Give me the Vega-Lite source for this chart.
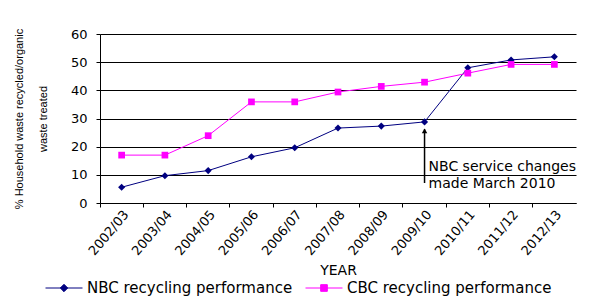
{
  "$schema": "https://vega.github.io/schema/vega-lite/v6.json",
  "width": 476,
  "height": 169,
  "autosize": {"type": "none"},
  "padding": {"left": 100, "top": 34, "right": 17, "bottom": 93},
  "background": "white",
  "config": {"view": {"stroke": null}, "font": "DejaVu Sans"},
  "datasets": {
    "series": [
      {"year": "2002/03", "series": "NBC recycling performance", "value": 5.6},
      {"year": "2003/04", "series": "NBC recycling performance", "value": 9.7},
      {"year": "2004/05", "series": "NBC recycling performance", "value": 11.5},
      {"year": "2005/06", "series": "NBC recycling performance", "value": 16.4},
      {"year": "2006/07", "series": "NBC recycling performance", "value": 19.6},
      {"year": "2007/08", "series": "NBC recycling performance", "value": 26.6},
      {"year": "2008/09", "series": "NBC recycling performance", "value": 27.3},
      {"year": "2009/10", "series": "NBC recycling performance", "value": 28.8},
      {"year": "2010/11", "series": "NBC recycling performance", "value": 48.0},
      {"year": "2011/12", "series": "NBC recycling performance", "value": 50.8},
      {"year": "2012/13", "series": "NBC recycling performance", "value": 51.9},
      {"year": "2002/03", "series": "CBC recycling performance", "value": 17.0},
      {"year": "2003/04", "series": "CBC recycling performance", "value": 17.0},
      {"year": "2004/05", "series": "CBC recycling performance", "value": 23.9},
      {"year": "2005/06", "series": "CBC recycling performance", "value": 35.9},
      {"year": "2006/07", "series": "CBC recycling performance", "value": 35.9},
      {"year": "2007/08", "series": "CBC recycling performance", "value": 39.4},
      {"year": "2008/09", "series": "CBC recycling performance", "value": 41.4},
      {"year": "2009/10", "series": "CBC recycling performance", "value": 42.9},
      {"year": "2010/11", "series": "CBC recycling performance", "value": 46.1},
      {"year": "2011/12", "series": "CBC recycling performance", "value": 49.2},
      {"year": "2012/13", "series": "CBC recycling performance", "value": 49.2}
    ],
    "arrow": [{"year": "2009/10", "value": 7.1, "value2": 26.2}],
    "arrowhead": [{"year": "2009/10", "value": 25.6}],
    "notes": [
      {"year": "2009/10", "value": 12.8, "label": "NBC service changes"},
      {"year": "2009/10", "value": 6.7, "label": "made March 2010"}
    ]
  },
  "encoding": {
    "x": {
      "field": "year", "type": "ordinal",
      "sort": ["2002/03","2003/04","2004/05","2005/06","2006/07","2007/08","2008/09","2009/10","2010/11","2011/12","2012/13"],
      "scale": {"type": "band", "paddingInner": 0, "paddingOuter": 0},
      "axis": {
        "title": "YEAR", "titleFont": "DejaVu Sans", "titleFontSize": 14, "titleFontWeight": "normal", "titleColor": "#000", "titlePadding": 6,
        "bandPosition": 0, "labelAngle": -50, "labelAlign": "right", "labelBaseline": "top",
        "labelFont": "DejaVu Sans", "labelFontSize": 13, "labelColor": "#000", "labelPadding": 1,
        "domainColor": "#000", "tickColor": "#000", "tickSize": 4, "grid": false
      }
    },
    "y": {
      "field": "value", "type": "quantitative",
      "scale": {"domain": [0, 60], "nice": false},
      "axis": {
        "values": [0, 10, 20, 30, 40, 50, 60],
        "title": ["% Household waste recycled/organic", "waste treated"],
        "titleFont": "Liberation Sans", "titleFontSize": 11, "titleFontWeight": "normal", "titleColor": "#000",
        "titleLineHeight": 24, "titlePadding": 22,
        "labelFont": "DejaVu Sans", "labelFontSize": 13, "labelColor": "#000", "labelPadding": 9,
        "domainColor": "#000", "tickColor": "#000", "tickSize": 4,
        "grid": true, "gridColor": "#000", "gridWidth": 1, "gridOpacity": 1
      }
    }
  },
  "layer": [
    {
      "data": {"name": "series"},
      "mark": {"type": "line", "strokeWidth": 1},
      "encoding": {
        "color": {
          "field": "series", "type": "nominal",
          "scale": {"domain": ["NBC recycling performance", "CBC recycling performance"], "range": ["#000080", "#FF00FF"]},
          "legend": {
            "title": null, "orient": "none", "direction": "horizontal", "legendX": -55, "legendY": 235,
            "labelFont": "DejaVu Sans", "labelFontSize": 15, "labelColor": "#000", "labelOffset": 4, "labelLimit": 400,
            "symbolSize": 1369, "columnPadding": 10, "symbolStrokeWidth": 1,
            "encode": {
              "symbols": {
                "update": {
                  "shape": {"signal": "datum.value === 'NBC recycling performance' ? 'M-1,0L1,0M0,-0.2L0.2,0L0,0.2L-0.2,0Z' : 'M-1,0L1,0M-0.18,-0.18L0.18,-0.18L0.18,0.18L-0.18,0.18Z'"},
                  "fill": {"signal": "datum.value === 'NBC recycling performance' ? '#000080' : '#FF00FF'"},
                  "stroke": {"signal": "datum.value === 'NBC recycling performance' ? '#000080' : '#FF00FF'"},
                  "opacity": {"value": 1},
                  "fillOpacity": {"value": 1}
                }
              }
            }
          }
        }
      }
    },
    {
      "data": {"name": "series"},
      "transform": [{"filter": "datum.series === 'NBC recycling performance'"}],
      "mark": {"type": "point", "shape": "diamond", "filled": true, "opacity": 1, "size": 50},
      "encoding": {
        "color": {"field": "series", "type": "nominal"}
      }
    },
    {
      "data": {"name": "series"},
      "transform": [{"filter": "datum.series === 'CBC recycling performance'"}],
      "mark": {"type": "point", "shape": "square", "filled": true, "opacity": 1, "size": 45},
      "encoding": {
        "color": {"field": "series", "type": "nominal"}
      }
    },
    {
      "data": {"name": "arrow"},
      "mark": {"type": "rule", "color": "#000", "strokeWidth": 1.5},
      "encoding": {
        "y2": {"field": "value2"}
      }
    },
    {
      "data": {"name": "arrowhead"},
      "mark": {"type": "point", "shape": "triangle-up", "filled": true, "color": "#000", "opacity": 1, "size": 30},
      "encoding": {}
    },
    {
      "data": {"name": "notes"},
      "mark": {"type": "text", "align": "left", "baseline": "middle", "dx": 4, "font": "DejaVu Sans", "fontSize": 14, "color": "#000"},
      "encoding": {
        "text": {"field": "label"}
      }
    }
  ]
}
